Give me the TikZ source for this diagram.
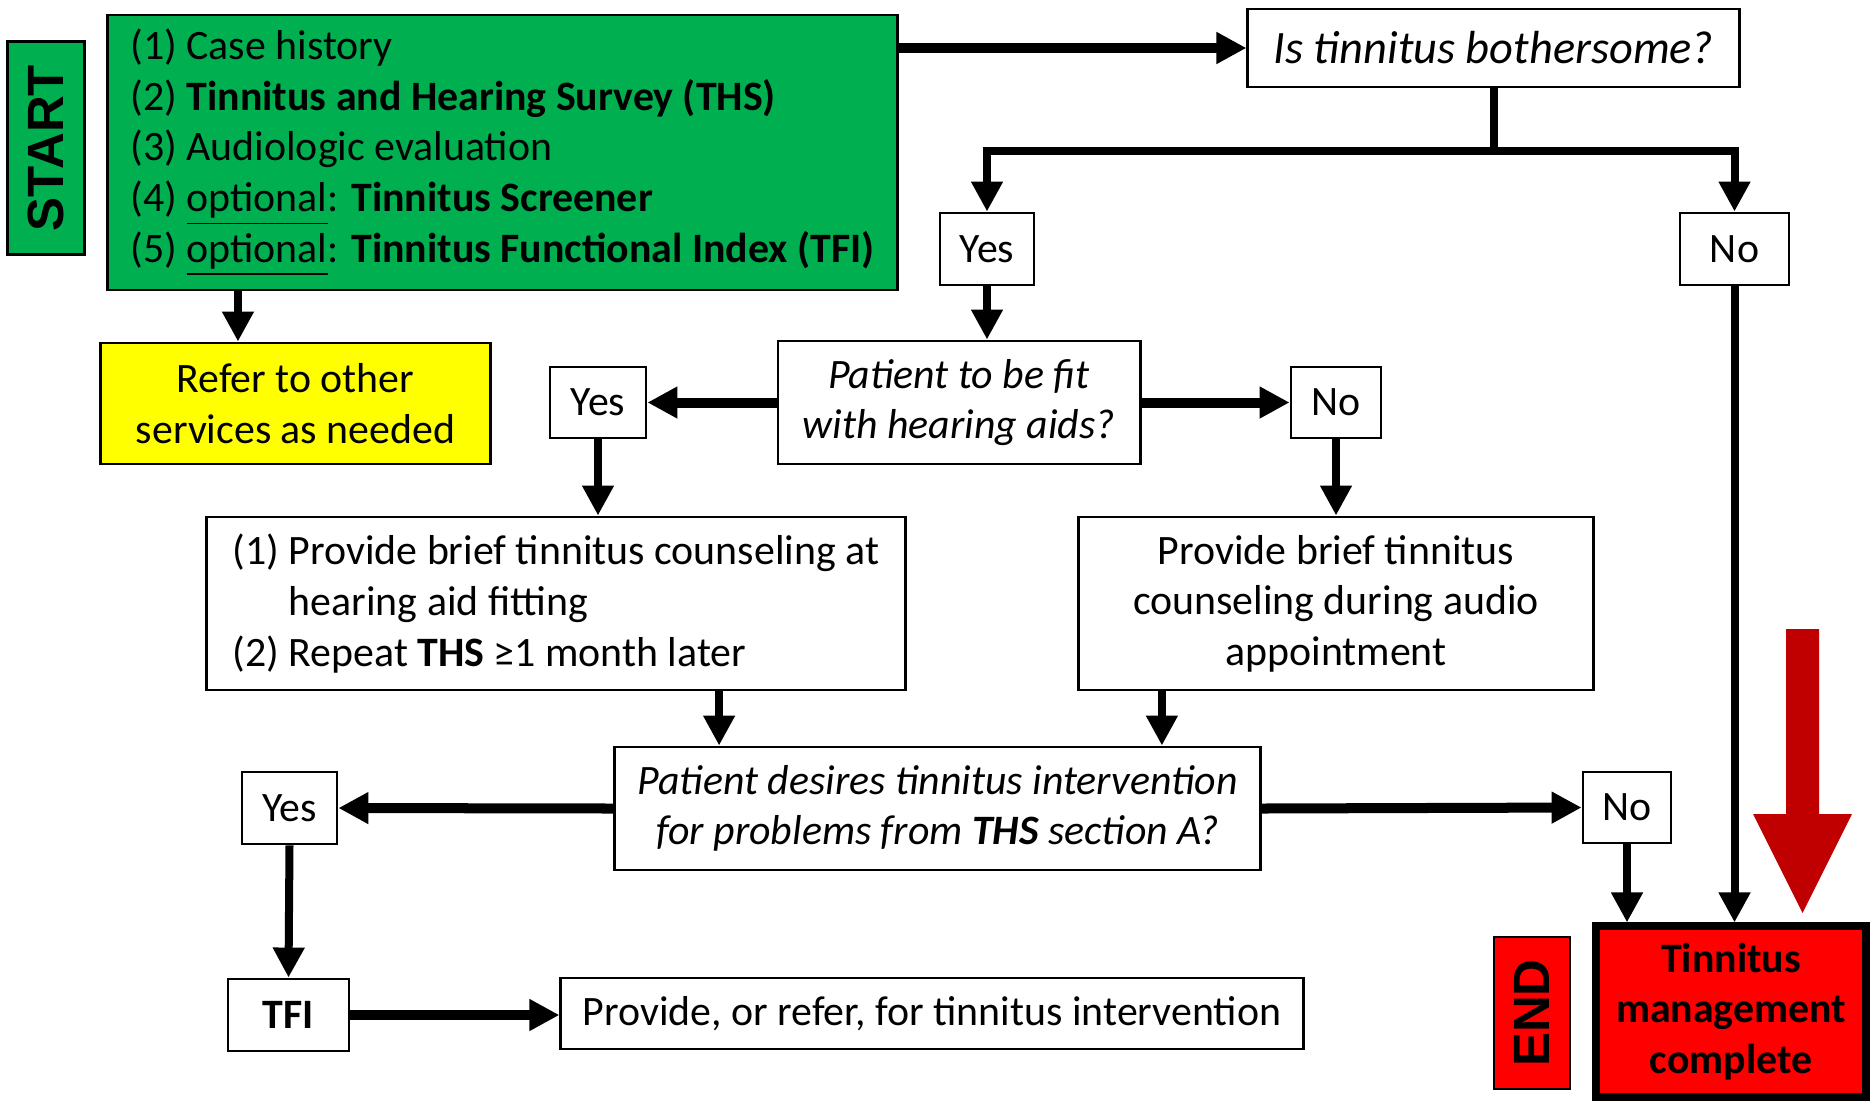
\documentclass[tikz,border=0pt]{standalone}
\usepackage{fontspec}
\setmainfont{Carlito}
\newfontfamily\labelfont{Liberation Sans}
\usepackage{tikz}
\usetikzlibrary{arrows.meta, positioning, calc}

\definecolor{startgreen}{HTML}{00B050}
\definecolor{referyellow}{HTML}{FFFF00}
\definecolor{endred}{HTML}{FF0000}
\definecolor{darkred}{HTML}{C00000}

\begin{document}
\begin{tikzpicture}[
    x=0.01cm, y=-0.01cm,
    font=\fontsize{11.9}{14.4}\selectfont,
    box/.style={rectangle, draw, line width=0.8pt, inner sep=2pt, align=center},
    sidelabel/.style={box, rotate=90, font=\labelfont\bfseries\fontsize{14.5}{16}\selectfont},
    arrow/.style={-{Triangle[length=0.3cm, width=0.3cm]}, line width=0.08cm},
    bigarrow/.style={arrow, line width=0.1cm},
]
\useasboundingbox (0,0) rectangle (1874,1103);

% Intake
\node[sidelabel, fill=startgreen, minimum width=2.13cm, minimum height=0.77cm] (start) at (46,148) {START};
\node[box, fill=startgreen, minimum width=7.89cm, minimum height=2.75cm, align=left] (intake) at (502.5,152.5)
    {(1) Case history\\
     (2) \textbf{Tinnitus and Hearing Survey (THS)}\\
     (3) Audiologic evaluation\\
     (4) \underline{optional}: \textbf{Tinnitus Screener}\\
     (5) \underline{optional}: \textbf{Tinnitus Functional Index (TFI)}};
\node[box, fill=referyellow, minimum width=3.89cm, minimum height=1.21cm] (refer) at (295.5,403.5) {Refer to other\\services as needed};

% First question
\node[box, minimum width=4.91cm, minimum height=0.78cm, font=\fontsize{13.2}{16}\selectfont] (bother) at (1493.5,48) {\textit{Is tinnitus bothersome?}};
\node[box, minimum width=0.94cm, minimum height=0.72cm] (yes1) at (987,249) {Yes};
\node[box, minimum width=1.09cm, minimum height=0.72cm] (no1) at (1734.5,249) {No};

% Hearing aids
\node[box, minimum width=3.62cm, minimum height=1.23cm] (fit) at (959,402.5) {\textit{Patient to be fit}\\\textit{with hearing aids?}};
\node[box, minimum width=0.96cm, minimum height=0.71cm] (yes2) at (598,402.5) {Yes};
\node[box, minimum width=0.90cm, minimum height=0.71cm] (no2) at (1336,402.5) {No};
\node[box, minimum width=6.98cm, minimum height=1.73cm, align=left] (counselfit) at (556,603.5)
    {(1) Provide brief tinnitus counseling at\\
     \phantom{(1) }hearing aid fitting\\
     (2) Repeat \textbf{THS} ≥1 month later};
\node[box, minimum width=5.14cm, minimum height=1.73cm] (counselaudio) at (1336,603.5)
    {Provide brief tinnitus\\counseling during audio\\appointment};

% Intervention
\node[box, minimum width=6.45cm, minimum height=1.23cm] (desire) at (937.5,808.5)
    {\textit{Patient desires tinnitus intervention}\\\textit{for problems from \textbf{THS} section A?}};
\node[box, minimum width=0.95cm, minimum height=0.72cm] (yes3) at (289.5,808) {Yes};
\node[box, minimum width=0.88cm, minimum height=0.71cm] (no3) at (1627,807.5) {No};
\node[box, minimum width=1.21cm, minimum height=0.72cm] (tfi) at (288.5,1015) {\textbf{TFI}};
\node[box, minimum width=7.42cm, minimum height=0.71cm] (provide) at (932,1013.5) {Provide, or refer, for tinnitus intervention};

% End
\node[sidelabel, fill=endred, minimum width=1.52cm, minimum height=0.76cm] (endtag) at (1532,1013) {END};
\node[box, fill=endred, line width=0.08cm, minimum width=2.7cm, minimum height=1.7cm, font=\bfseries\fontsize{11.9}{14.4}\selectfont] (done) at (1731,1011.5)
    {Tinnitus\\management\\complete};
\fill[darkred] (1786,629) -- (1819,629) -- (1819,814) -- (1852,814) -- (1802.5,913) -- (1753,814) -- (1786,814) -- cycle;

% Connectors
\draw[bigarrow] (intake.east |- bother.west) -- (bother.west);
\coordinate (referin) at ([xshift=-0.575cm]refer.north);
\draw[arrow] (referin |- intake.south) -- (referin);
\coordinate (split) at ($(bother.south)+(0,63)$);
\draw[arrow] (bother.south) -- (split) -| (yes1.north);
\draw[arrow] (split) -| (no1.north);
\draw[arrow] (yes1.south) -- (yes1.south |- fit.north);
\draw[bigarrow] (fit.west) -- (yes2.east);
\draw[bigarrow] (fit.east) -- (no2.west);
\draw[arrow] (yes2.south) -- (yes2.south |- counselfit.north);
\draw[arrow] (no2.south) -- (counselaudio.north);
\coordinate (fitout) at ([xshift=1.63cm]counselfit.south);
\coordinate (audioout) at ([xshift=-1.74cm]counselaudio.south);
\draw[arrow] (fitout) -- (fitout |- desire.north);
\draw[arrow] (audioout) -- (audioout |- desire.north);
\draw[bigarrow] (desire.west) -- (yes3.east);
\draw[bigarrow] (desire.east) -- (no3.west);
\draw[arrow] (yes3.south) -- (tfi.north);
\draw[bigarrow] (tfi.east) -- (tfi.east -| provide.west);
\draw[arrow] (no3.south) -- (no3.south |- done.north);
\draw[arrow] (no1.south) -- (no1.south |- done.north);

\end{tikzpicture}
\end{document}
